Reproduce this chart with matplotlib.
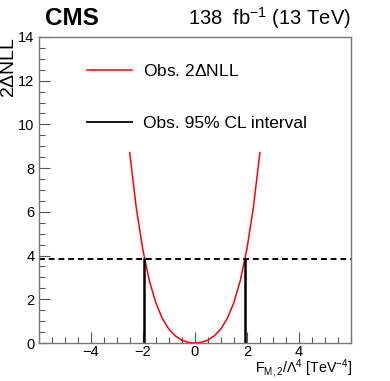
import matplotlib
matplotlib.use('Agg')
import matplotlib.pyplot as plt
from matplotlib.lines import Line2D
from matplotlib.ticker import MultipleLocator

plt.rcParams['font.family'] = ['Liberation Sans', 'DejaVu Sans']
plt.rcParams['mathtext.fontset'] = 'custom'
plt.rcParams['mathtext.rm'] = 'Liberation Sans'
plt.rcParams['mathtext.it'] = 'Liberation Sans'

# scan points
coupling = [-2.5, -2.25, -2.0, -1.75, -1.5, -1.25, -1.0, -0.75, -0.5, -0.25, 0.0,
            0.25, 0.5, 0.75, 1.0, 1.25, 1.5, 1.75, 2.0, 2.25, 2.5]
nll2 = [8.71, 6.20, 4.29, 2.87, 1.85, 1.13, 0.64, 0.33, 0.13, 0.03, 0.0,
        0.03, 0.13, 0.33, 0.64, 1.13, 1.85, 2.87, 4.29, 6.20, 8.71]
cl_threshold = 3.84
cl_interval = [-1.94, 1.92]

fig = plt.figure(figsize=(3.9, 3.81), dpi=100)
ax = fig.add_axes([0.099, 0.0997, 0.801, 0.8033])

ax.plot(coupling, nll2, color='red', lw=1.1)
ax.axhline(cl_threshold, color='black', lw=1.4, ls=(0, (3, 2)))
for xv in cl_interval:
    ax.plot([xv, xv], [0, cl_threshold], color='black', lw=1.8)

ax.set_xlim(-6, 6)
ax.set_ylim(0, 14)
ax.xaxis.set_major_locator(MultipleLocator(2))
ax.xaxis.set_minor_locator(MultipleLocator(0.5))
ax.yaxis.set_major_locator(MultipleLocator(2))
ax.yaxis.set_minor_locator(MultipleLocator(0.5))
ax.set_xticks([-4, -2, 0, 2, 4])
ax.tick_params(which='both', direction='in', top=False, right=False,
               color='#555555', labelsize=10.5, width=0.8)
ax.tick_params(axis='x', which='major', length=8, pad=1.5)
ax.tick_params(axis='y', which='major', length=8, pad=3)
ax.tick_params(which='minor', length=4)
for s in ax.spines.values():
    s.set_color('#777777')
    s.set_linewidth(1.0)

fig.text(0.902, 0.002, 'F$_{\\mathrm{M,2}}$/$\\Lambda^{4}$ [TeV$^{-4}$]', fontsize=10.2,
         ha='right', va='bottom')
ax.set_ylabel('2$\\Delta$NLL', fontsize=14, loc='top', labelpad=0)

handles = [Line2D([], [], color='red', lw=1.1),
           Line2D([], [], color='black', lw=1.3)]
ax.legend(handles, ['Obs. 2$\\Delta$NLL', 'Obs. 95% CL interval'],
          loc='upper left', bbox_to_anchor=(0.104, 0.965), frameon=False,
          fontsize=12.5, handlelength=2.6, handletextpad=0.65, labelspacing=2.1)

fig.text(0.115, 0.935, 'CMS', fontsize=17.5, fontweight='bold', ha='left', va='baseline')
fig.text(0.9, 0.935, '138  fb$^{-1}$ (13 TeV)', fontsize=14.5, ha='right', va='baseline')

fig.savefig('out.png', dpi=100)
